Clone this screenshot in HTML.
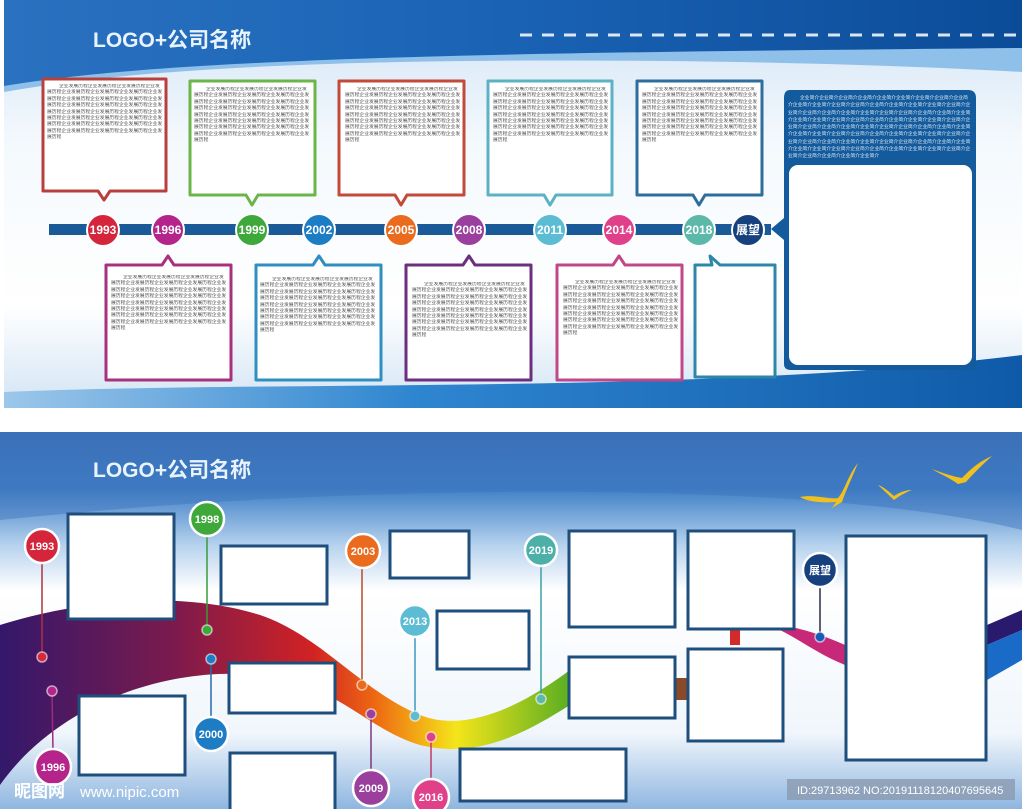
<!DOCTYPE html>
<html><head><meta charset="utf-8">
<style>
body{margin:0;width:1024px;height:809px;overflow:hidden;background:#fff;position:relative;font-family:"Liberation Sans","Noto Sans CJK SC",sans-serif}
.t{position:absolute;font-size:4.8px;line-height:6.4px;color:#555;word-break:break-all;overflow:hidden;text-indent:12px}
.w{color:#dfe9f5}
</style></head><body>
<svg width="1024" height="809" style="position:absolute;left:0;top:0">
<defs>
<linearGradient id="tp" x1="0" y1="0" x2="0" y2="1">
<stop offset="0" stop-color="#cfe2f4"/><stop offset="0.35" stop-color="#f4f9fd"/><stop offset="0.75" stop-color="#ffffff"/><stop offset="1" stop-color="#d2e4f4"/></linearGradient>
<linearGradient id="tb" x1="0" y1="0" x2="1" y2="0">
<stop offset="0" stop-color="#2a72c0"/><stop offset="0.5" stop-color="#1a62b4"/><stop offset="1" stop-color="#0b4c98"/></linearGradient>
<linearGradient id="bb" x1="0" y1="0" x2="1" y2="0">
<stop offset="0" stop-color="#9cc7ea"/><stop offset="0.4" stop-color="#2f86d0"/><stop offset="1" stop-color="#0f5aa8"/></linearGradient>
<linearGradient id="bp" x1="0" y1="0" x2="0" y2="1">
<stop offset="0" stop-color="#3a6fb5"/><stop offset="0.15" stop-color="#3f7fc6"/><stop offset="0.3" stop-color="#b6d2ee"/><stop offset="0.42" stop-color="#ffffff"/><stop offset="0.8" stop-color="#f0f6fc"/><stop offset="1" stop-color="#8fb6e0"/></linearGradient>
<linearGradient id="rib" x1="0" y1="0" x2="1" y2="0">
<stop offset="0" stop-color="#33186b"/><stop offset="0.3" stop-color="#7a1a4e"/><stop offset="0.55" stop-color="#d22222"/><stop offset="0.66" stop-color="#ee6a12"/><stop offset="0.8" stop-color="#f5e51a"/><stop offset="1" stop-color="#5aae22"/></linearGradient>
</defs>
<!-- top panel -->
<rect x="4" y="0" width="1018" height="408" fill="url(#tp)"/>
<path d="M4,0H1022V72C850,62 600,58 400,62C220,66 100,75 4,92Z" fill="#8fc0ea"/>
<path d="M4,0H1022V48C820,50 560,52 380,58C200,64 90,72 4,86Z" fill="url(#tb)"/>
<line x1="520" y1="35" x2="1022" y2="35" stroke="#fff" stroke-width="3" stroke-dasharray="12,10" opacity="0.85"/>
<path d="M4,408V392C300,380 700,395 1022,355V408Z" fill="url(#bb)"/>
<text x="93" y="47" font-size="21" font-weight="bold" fill="#e8f3fc" font-family="Liberation Sans,Noto Sans CJK SC,sans-serif">LOGO+公司名称</text>
<!-- timeline bar -->
<rect x="49" y="224" width="722" height="11" fill="#1a5a98"/>
<!-- top boxes -->
<g fill="#fff" stroke-width="3" stroke-linejoin="round">
<path d="M43,79H166V191H110L104,200L98,191H43Z" stroke="#b8403c"/>
<path d="M190,81H315V195H258L252,205L246,195H190Z" stroke="#6cb54a"/>
<path d="M339,81H464V195H407L401,205L395,195H339Z" stroke="#c24a3a"/>
<path d="M488,81H612V195H556L550,205L544,195H488Z" stroke="#5cb2c4"/>
<path d="M637,81H762V195H705L699,205L693,195H637Z" stroke="#2e6e9c"/>
<path d="M106,265H162L168,256L174,265H231V380H106Z" stroke="#a8307e"/>
<path d="M256,265H313L319,256L325,265H381V380H256Z" stroke="#2f8fc0"/>
<path d="M406,265H463L469,256L475,265H531V380H406Z" stroke="#6c2e7e"/>
<path d="M557,265H613L619,256L625,265H682V380H557Z" stroke="#c04888"/>
<path d="M695,265H712L710,256L720,265H775V377H695Z" stroke="#2e86a8"/>
</g>
<path d="M790,90H968Q976,90 976,98V364Q976,370 968,370H791Q784,370 784,364V240L771,229L784,218V98Q784,90 790,90Z" fill="#135b9c"/>
<rect x="789" y="165" width="183" height="200" rx="9" fill="#fff"/>
<!-- top circles -->
<g stroke="#fff" stroke-width="2">
<circle cx="103" cy="230" r="16" fill="#d4253a"/>
<circle cx="168" cy="230" r="16" fill="#b5248a"/>
<circle cx="252" cy="230" r="16" fill="#3fa83a"/>
<circle cx="319" cy="230" r="16" fill="#1c7cc4"/>
<circle cx="401" cy="230" r="16" fill="#ea6a1e"/>
<circle cx="469" cy="230" r="16" fill="#9a3f9e"/>
<circle cx="550" cy="230" r="16" fill="#5cbcd4"/>
<circle cx="619" cy="230" r="16" fill="#e0408a"/>
<circle cx="699" cy="230" r="16" fill="#5cb8a8"/>
<circle cx="748" cy="230" r="16" fill="#16407e"/>
</g>
<g fill="#fff" font-weight="bold" font-size="12" text-anchor="middle" font-family="Liberation Sans,Noto Sans CJK SC,sans-serif">
<text x="103" y="234">1993</text><text x="168" y="234">1996</text><text x="252" y="234">1999</text><text x="319" y="234">2002</text><text x="401" y="234">2005</text><text x="469" y="234">2008</text><text x="550" y="234">2011</text><text x="619" y="234">2014</text><text x="699" y="234">2018</text><text x="748" y="234">展望</text>
</g>
<!-- bottom panel -->
<rect x="0" y="432" width="1022" height="377" fill="url(#bp)"/>
<path d="M0,432H1022V530C900,500 700,490 500,492C300,494 150,505 0,520Z" fill="#3b74bd" opacity="0.45"/>
<text x="93" y="477" font-size="21" font-weight="bold" fill="#e8f3fc" font-family="Liberation Sans,Noto Sans CJK SC,sans-serif">LOGO+公司名称</text>
<!-- birds -->
<g fill="#f0c020">
<path d="M800,497C815,494 830,500 838,498C845,490 848,475 858,463C852,478 846,490 842,502L832,508L836,502C822,503 808,502 800,497Z"/>
<path d="M878,485C886,488 890,493 894,496C900,492 906,490 912,490C904,493 898,497 894,500Z"/>
<path d="M932,469C945,474 955,477 962,478C970,470 978,462 992,456C982,465 972,475 966,482L958,484C950,478 940,474 932,469Z"/>
</g>
<!-- ribbon -->
<path d="M0,625C80,600 180,590 260,615C320,635 360,690 420,715C470,735 530,700 570,670L570,705C530,730 480,760 420,745C370,730 340,690 280,678C180,660 60,700 0,785Z" fill="url(#rib)"/>
<rect x="676" y="678" width="12" height="22" fill="#8a4a2a"/>
<rect x="730" y="628" width="10" height="17" fill="#d42a2a"/>
<path d="M780,625C800,628 820,634 845,645V665C820,655 800,640 780,630Z" fill="#c82878"/>
<path d="M987,625L1022,610V630L987,645Z" fill="#2a1a6e"/>
<path d="M987,645L1022,630V660L987,680Z" fill="#1a6ac8"/>
<!-- stems -->
<g stroke-width="1.5">
<line x1="42" y1="560" x2="42" y2="657" stroke="#b03040"/>
<line x1="207" y1="535" x2="207" y2="630" stroke="#3a9a3a"/>
<line x1="211" y1="659" x2="211" y2="720" stroke="#2a6aa8"/>
<line x1="52" y1="691" x2="53" y2="752" stroke="#a02a7a"/>
<line x1="362" y1="568" x2="362" y2="685" stroke="#b84a2a"/>
<line x1="371" y1="714" x2="371" y2="775" stroke="#7a3a7e"/>
<line x1="415" y1="637" x2="415" y2="716" stroke="#3a9ac0"/>
<line x1="431" y1="737" x2="431" y2="782" stroke="#c03a6a"/>
<line x1="541" y1="565" x2="541" y2="699" stroke="#3aa0a8"/>
<line x1="820" y1="588" x2="820" y2="637" stroke="#2a2a4a"/>
</g>
<g stroke="#fff" stroke-width="1.5" stroke-opacity="0.6">
<circle cx="42" cy="657" r="5" fill="#d42a3a"/>
<circle cx="207" cy="630" r="5" fill="#3aa83a"/>
<circle cx="211" cy="659" r="5" fill="#1c7cc4"/>
<circle cx="52" cy="691" r="5" fill="#b5248a"/>
<circle cx="362" cy="685" r="5" fill="#ea6a1e"/>
<circle cx="371" cy="714" r="5" fill="#9a3f9e"/>
<circle cx="415" cy="716" r="5" fill="#5cbcd4"/>
<circle cx="431" cy="737" r="5" fill="#e0408a"/>
<circle cx="541" cy="699" r="5" fill="#5cb8a8"/>
<circle cx="820" cy="637" r="5" fill="#1a5ab8"/>
</g>
<!-- bottom boxes -->
<g fill="#fff" stroke="#1e4e7c" stroke-width="3">
<rect x="68" y="514" width="106" height="105"/>
<rect x="221" y="546" width="106" height="58"/>
<rect x="390" y="531" width="79" height="47"/>
<rect x="437" y="611" width="92" height="58"/>
<rect x="569" y="531" width="106" height="96"/>
<rect x="688" y="531" width="106" height="98"/>
<rect x="229" y="663" width="106" height="50"/>
<rect x="79" y="696" width="106" height="79"/>
<rect x="569" y="657" width="106" height="61"/>
<rect x="688" y="649" width="95" height="92"/>
<rect x="230" y="753" width="105" height="60"/>
<rect x="460" y="749" width="166" height="52"/>
<rect x="846" y="536" width="140" height="224"/>
</g>
<!-- bottom circles -->
<g stroke="#fff" stroke-width="2.5">
<circle cx="42" cy="546" r="17" fill="#d4253a"/>
<circle cx="207" cy="519" r="17" fill="#3fa83a"/>
<circle cx="363" cy="551" r="17" fill="#ea6a1e"/>
<circle cx="415" cy="621" r="16" fill="#5cbcd4"/>
<circle cx="541" cy="550" r="16" fill="#4cb0a8"/>
<circle cx="820" cy="570" r="17" fill="#16407e"/>
<circle cx="211" cy="734" r="17" fill="#1c7cc4"/>
<circle cx="53" cy="767" r="18" fill="#b5248a"/>
<circle cx="371" cy="788" r="18" fill="#9a3f9e"/>
<circle cx="431" cy="797" r="18" fill="#e0408a"/>
</g>
<g fill="#fff" font-weight="bold" font-size="11" text-anchor="middle" font-family="Liberation Sans,Noto Sans CJK SC,sans-serif">
<text x="42" y="550">1993</text><text x="207" y="523">1998</text><text x="363" y="555">2003</text><text x="415" y="625">2013</text><text x="541" y="554">2019</text><text x="820" y="574">展望</text><text x="211" y="738">2000</text><text x="53" y="771">1996</text><text x="371" y="792">2009</text><text x="431" y="801">2016</text>
</g>
<text x="14" y="797" font-size="17" fill="#fff" font-family="Liberation Sans,Noto Sans CJK SC,sans-serif" font-weight="bold">昵图网</text>
<text x="80" y="797" font-size="15" fill="#fff" font-family="Liberation Sans,sans-serif">www.nipic.com</text>
<rect x="787" y="779" width="228" height="21" fill="#8a9ab0" opacity="0.8"/>
<text x="797" y="794" font-size="11" fill="#fff" font-family="Liberation Sans,sans-serif">ID:29713962 NO:20191118120407695645</text>
</svg>
<div class="t" style="left:47px;top:84px;width:116px;height:58px">企业发展历程企业发展历程企业发展历程企业发展历程企业发展历程企业发展历程企业发展历程企业发展历程企业发展历程企业发展历程企业发展历程企业发展历程企业发展历程企业发展历程企业发展历程企业发展历程企业发展历程企业发展历程企业发展历程企业发展历程企业发展历程企业发展历程企业发展历程企业发展历程企业发展历程企业发展历程企业发展历程企业发展历程企业发展历程企业发展历程企业发展历程企业发展历程</div>
<div class="t" style="left:194px;top:87px;width:116px;height:58px">企业发展历程企业发展历程企业发展历程企业发展历程企业发展历程企业发展历程企业发展历程企业发展历程企业发展历程企业发展历程企业发展历程企业发展历程企业发展历程企业发展历程企业发展历程企业发展历程企业发展历程企业发展历程企业发展历程企业发展历程企业发展历程企业发展历程企业发展历程企业发展历程企业发展历程企业发展历程企业发展历程企业发展历程企业发展历程企业发展历程企业发展历程企业发展历程</div>
<div class="t" style="left:345px;top:87px;width:116px;height:58px">企业发展历程企业发展历程企业发展历程企业发展历程企业发展历程企业发展历程企业发展历程企业发展历程企业发展历程企业发展历程企业发展历程企业发展历程企业发展历程企业发展历程企业发展历程企业发展历程企业发展历程企业发展历程企业发展历程企业发展历程企业发展历程企业发展历程企业发展历程企业发展历程企业发展历程企业发展历程企业发展历程企业发展历程企业发展历程企业发展历程企业发展历程企业发展历程</div>
<div class="t" style="left:493px;top:87px;width:116px;height:58px">企业发展历程企业发展历程企业发展历程企业发展历程企业发展历程企业发展历程企业发展历程企业发展历程企业发展历程企业发展历程企业发展历程企业发展历程企业发展历程企业发展历程企业发展历程企业发展历程企业发展历程企业发展历程企业发展历程企业发展历程企业发展历程企业发展历程企业发展历程企业发展历程企业发展历程企业发展历程企业发展历程企业发展历程企业发展历程企业发展历程企业发展历程企业发展历程</div>
<div class="t" style="left:642px;top:87px;width:116px;height:58px">企业发展历程企业发展历程企业发展历程企业发展历程企业发展历程企业发展历程企业发展历程企业发展历程企业发展历程企业发展历程企业发展历程企业发展历程企业发展历程企业发展历程企业发展历程企业发展历程企业发展历程企业发展历程企业发展历程企业发展历程企业发展历程企业发展历程企业发展历程企业发展历程企业发展历程企业发展历程企业发展历程企业发展历程企业发展历程企业发展历程企业发展历程企业发展历程</div>
<div class="t" style="left:111px;top:275px;width:116px;height:58px">企业发展历程企业发展历程企业发展历程企业发展历程企业发展历程企业发展历程企业发展历程企业发展历程企业发展历程企业发展历程企业发展历程企业发展历程企业发展历程企业发展历程企业发展历程企业发展历程企业发展历程企业发展历程企业发展历程企业发展历程企业发展历程企业发展历程企业发展历程企业发展历程企业发展历程企业发展历程企业发展历程企业发展历程企业发展历程企业发展历程企业发展历程企业发展历程</div>
<div class="t" style="left:260px;top:277px;width:116px;height:58px">企业发展历程企业发展历程企业发展历程企业发展历程企业发展历程企业发展历程企业发展历程企业发展历程企业发展历程企业发展历程企业发展历程企业发展历程企业发展历程企业发展历程企业发展历程企业发展历程企业发展历程企业发展历程企业发展历程企业发展历程企业发展历程企业发展历程企业发展历程企业发展历程企业发展历程企业发展历程企业发展历程企业发展历程企业发展历程企业发展历程企业发展历程企业发展历程</div>
<div class="t" style="left:412px;top:282px;width:116px;height:58px">企业发展历程企业发展历程企业发展历程企业发展历程企业发展历程企业发展历程企业发展历程企业发展历程企业发展历程企业发展历程企业发展历程企业发展历程企业发展历程企业发展历程企业发展历程企业发展历程企业发展历程企业发展历程企业发展历程企业发展历程企业发展历程企业发展历程企业发展历程企业发展历程企业发展历程企业发展历程企业发展历程企业发展历程企业发展历程企业发展历程企业发展历程企业发展历程</div>
<div class="t" style="left:563px;top:280px;width:116px;height:58px">企业发展历程企业发展历程企业发展历程企业发展历程企业发展历程企业发展历程企业发展历程企业发展历程企业发展历程企业发展历程企业发展历程企业发展历程企业发展历程企业发展历程企业发展历程企业发展历程企业发展历程企业发展历程企业发展历程企业发展历程企业发展历程企业发展历程企业发展历程企业发展历程企业发展历程企业发展历程企业发展历程企业发展历程企业发展历程企业发展历程企业发展历程企业发展历程</div>
<div class="t w" style="left:788px;top:95px;width:184px;height:66px;line-height:7.3px">企业简介企业简介企业简介企业简介企业简介企业简介企业简介企业简介企业简介企业简介企业简介企业简介企业简介企业简介企业简介企业简介企业简介企业简介企业简介企业简介企业简介企业简介企业简介企业简介企业简介企业简介企业简介企业简介企业简介企业简介企业简介企业简介企业简介企业简介企业简介企业简介企业简介企业简介企业简介企业简介企业简介企业简介企业简介企业简介企业简介企业简介企业简介企业简介企业简介企业简介企业简介企业简介企业简介企业简介企业简介企业简介企业简介企业简介企业简介企业简介企业简介企业简介企业简介企业简介企业简介企业简介企业简介企业简介企业简介企业简介企业简介企业简介企业简介企业简介企业简介企业简介企业简介企业简介企业简介企业简介</div>
</body></html>
